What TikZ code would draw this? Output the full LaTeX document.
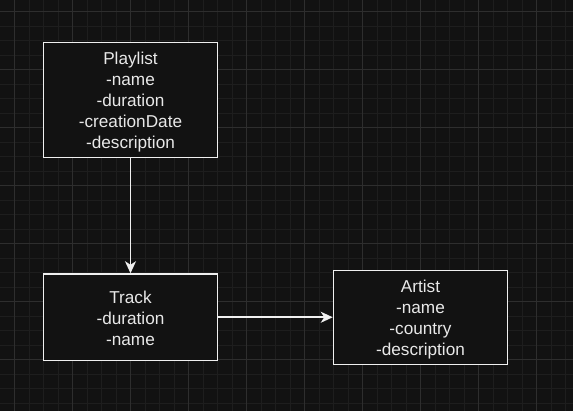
\documentclass[tikz,border=0pt]{standalone}
\usepackage{fontspec}
\setmainfont{Liberation Sans}
\usetikzlibrary{arrows.meta}
\definecolor{bgc}{HTML}{121212}
\definecolor{minorc}{HTML}{1E1E1E}
\definecolor{majorc}{HTML}{2E2E2E}
\definecolor{linec}{HTML}{F0F0F0}
\definecolor{textc}{HTML}{E8E8E8}
\tikzset{
  entity/.style={draw=linec, fill=bgc, line width=1.5pt, minimum width=174pt,
    inner sep=0pt},
  entitytext/.style={inner sep=0pt, align=center, text=textc,
    font=\fontsize{17.2}{21}\selectfont},
  conn/.style={draw=linec, line width=1.5pt,
    -{Stealth[length=12pt,width=11pt,inset=3.5pt]}}
}
\begin{document}
\begin{tikzpicture}[x=1pt,y=-1pt]
\fill[bgc] (0,0) rectangle (573,411);
\useasboundingbox (0,0) rectangle (573,411);
% minor grid
\foreach \k in {1,...,39} {
  \draw[minorc, line width=1pt] (14.5*\k,0) -- (14.5*\k,411);
}
\foreach \j in {0,...,27} {
  \draw[minorc, line width=1pt] (0,12+14.5*\j) -- (573,12+14.5*\j);
}
% major grid
\foreach \k in {0,...,9} {
  \draw[majorc, line width=1pt] (14.5+58*\k,0) -- (14.5+58*\k,411);
}
\foreach \j in {0,...,6} {
  \draw[majorc, line width=1pt] (0,12+58*\j) -- (573,12+58*\j);
}
\node[entity, minimum height=115pt] (playlist) at (130.5,100) {};
\node[entitytext] (playlisttext) at ([yshift=-2pt]playlist.center)
  {Playlist\\-name\\-duration\\-creationDate\\-description};
\node[entity, minimum height=86.5pt] (track) at (130.5,317.25) {};
\node[entitytext] (tracktext) at ([yshift=-1.5pt]track.center)
  {Track\\-duration\\-name};
\node[entity, minimum height=94pt] (artist) at (420.5,317.5) {};
\node[entitytext] (artisttext) at ([yshift=-2pt]artist.center)
  {Artist\\-name\\-country\\-description};
\draw[conn] (playlist.south) -- (track.north);
\draw[conn] (track.east) -- (artist.west |- track.east);
\end{tikzpicture}
\end{document}
